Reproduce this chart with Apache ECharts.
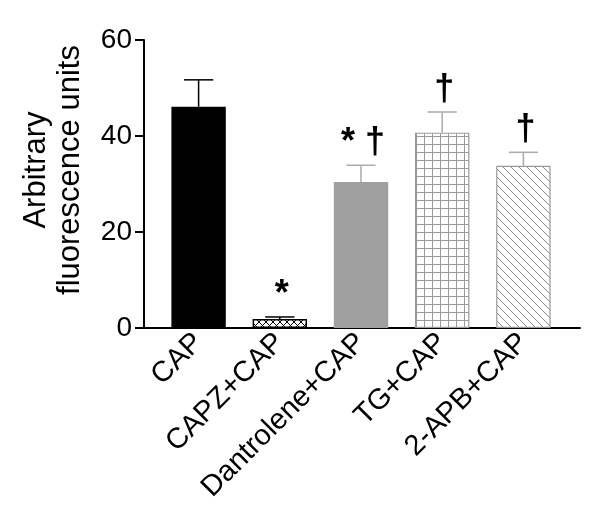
<!DOCTYPE html>
<html>
<head>
<meta charset="utf-8">
<script src="https://cdn.jsdelivr.net/npm/echarts@6/dist/echarts.min.js"></script>
<style>
  html, body { margin: 0; background: #fff; }
  #main { width: 600px; height: 523px; }
</style>
</head>
<body>
<div id="main"></div>
<script>
const categories = ['CAP', 'CAPZ+CAP', 'Dantrolene+CAP', 'TG+CAP', '2-APB+CAP'];
const means = [46.1, 1.9, 30.4, 40.7, 33.8];
const errors = [5.6, 0.4, 3.5, 4.3, 2.8];
const marks = ['', '*', '* †', '†', '†'];
const yTicks = [0, 20, 40, 60];

const FONT = '"Liberation Sans", Arial, Helvetica, sans-serif';

// small canvas tiles for the hatched bars
function makePattern(kind, color) {
  const s = kind === 'cross' ? 7 : 8;
  const c = document.createElement('canvas');
  c.width = s;
  c.height = s;
  const ctx = c.getContext('2d');
  ctx.fillStyle = '#fff';
  ctx.fillRect(0, 0, s, s);
  ctx.strokeStyle = color;
  ctx.lineWidth = 1;
  ctx.beginPath();
  if (kind === 'cross') {
    ctx.moveTo(0, 0); ctx.lineTo(s, s);
    ctx.moveTo(s, 0); ctx.lineTo(0, s);
  } else if (kind === 'grid') {
    ctx.moveTo(0.5, 0); ctx.lineTo(0.5, s);
    ctx.moveTo(0, 0.5); ctx.lineTo(s, 0.5);
  } else {
    ctx.moveTo(-1, -1); ctx.lineTo(s + 1, s + 1);
    ctx.moveTo(-1, s - 1); ctx.lineTo(1, s + 1);
    ctx.moveTo(s - 1, -1); ctx.lineTo(s + 1, 1);
  }
  ctx.stroke();
  return { image: c, repeat: 'repeat' };
}

const barStyles = [
  { color: '#000' },
  { color: makePattern('cross', '#000'), borderColor: '#000', borderWidth: 1.5 },
  { color: '#a0a0a0' },
  { color: makePattern('grid', '#9a9a9a'), borderColor: '#9a9a9a', borderWidth: 1.2 },
  { color: makePattern('diag', '#8a8a8a'), borderColor: '#9a9a9a', borderWidth: 1.2 }
];
const errColors = ['#000', '#000', '#aaa', '#aaa', '#aaa'];

const myChart = echarts.init(document.getElementById('main'));

const option = {
  backgroundColor: '#fff',
  animation: false,
  grid: [
    { left: 158, right: 36, top: 40, height: 288, outerBoundsMode: 'none' },
    { left: 144, right: 20, top: 40, height: 288, outerBoundsMode: 'none' }
  ],
  xAxis: [
    {
      type: 'category',
      gridIndex: 0,
      data: categories,
      axisLine: { show: false },
      axisTick: { show: false },
      axisLabel: {
        rotate: 45,
        interval: 0,
        margin: 10,
        color: '#000',
        fontSize: 29,
        fontFamily: FONT
      }
    },
    {
      type: 'value',
      gridIndex: 1,
      min: 0,
      max: 1,
      axisLine: { show: true, onZero: false, lineStyle: { color: '#000', width: 2 } },
      axisTick: { show: false },
      axisLabel: { show: false },
      splitLine: { show: false }
    }
  ],
  yAxis: [
    {
      type: 'value',
      gridIndex: 0,
      min: yTicks[0],
      max: yTicks[yTicks.length - 1],
      interval: 20,
      offset: 14,
      name: 'Arbitrary\nfluorescence units',
      nameLocation: 'middle',
      nameGap: 57,
      nameTextStyle: {
        color: '#000',
        fontSize: 31,
        fontFamily: FONT,
        lineHeight: 34,
        padding: [0, 0, 0, 28]
      },
      axisLine: { show: true, lineStyle: { color: '#000', width: 2 } },
      axisTick: { show: true, length: 9, lineStyle: { color: '#000', width: 2 } },
      axisLabel: { color: '#000', fontSize: 28, fontFamily: FONT, margin: 12 },
      splitLine: { show: false }
    },
    {
      type: 'value',
      gridIndex: 1,
      min: 0,
      max: 60,
      show: false
    }
  ],
  series: [
    {
      type: 'bar',
      xAxisIndex: 0,
      yAxisIndex: 0,
      barWidth: '67%',
      data: means.map((v, i) => ({ value: v, itemStyle: barStyles[i] }))
    },
    {
      type: 'custom',
      xAxisIndex: 0,
      yAxisIndex: 0,
      z: 5,
      data: means.map((v, i) => [i, v, errors[i]]),
      renderItem: function (params, api) {
        const i = api.value(0);
        const base = api.coord([i, api.value(1)]);
        const top = api.coord([i, api.value(1) + api.value(2)]);
        const half = api.size([1, 0])[0] * 0.18;
        const col = errColors[i];
        return {
          type: 'group',
          children: [
            {
              type: 'line',
              shape: { x1: base[0], y1: base[1], x2: top[0], y2: top[1] },
              style: { stroke: col, lineWidth: 1.5 }
            },
            {
              type: 'line',
              shape: { x1: top[0] - half, y1: top[1], x2: top[0] + half, y2: top[1] },
              style: { stroke: col, lineWidth: 1.5 }
            },
            {
              type: 'text',
              x: top[0] + 2,
              y: top[1] - 4,
              style: {
                text: marks[i],
                fill: '#000',
                fontSize: 36,
                fontWeight: 'bold',
                fontFamily: FONT,
                align: 'center',
                verticalAlign: 'bottom'
              }
            }
          ]
        };
      }
    }
  ]
};

option && myChart.setOption(option);
</script>
</body>
</html>
